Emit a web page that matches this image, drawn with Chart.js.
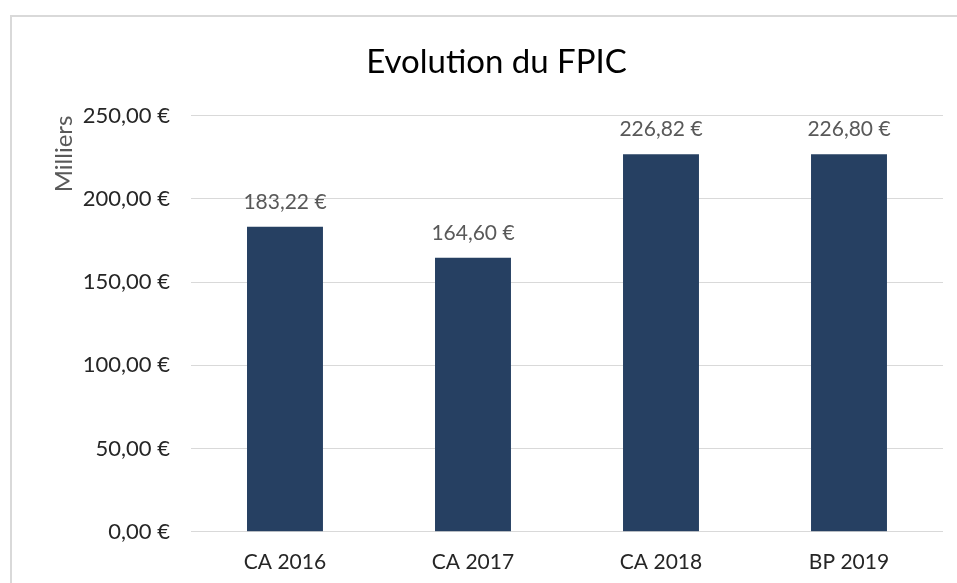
<!DOCTYPE html>
<html>
<head>
<meta charset="utf-8">
<script src="https://cdn.jsdelivr.net/npm/chart.js"></script>
<style>
  html,body{margin:0;padding:0;background:#fff;}
  #wrap{position:relative;width:957px;height:583px;}
</style>
</head>
<body>
<div id="wrap"><canvas id="fpic" width="957" height="583"></canvas></div>
<script>
const categories=["CA 2016","CA 2017","CA 2018","BP 2019"];
const fpicValues=[183.22,164.60,226.82,226.80];
const yTicks=[0,50,100,150,200,250];

const FONT="Lato, 'Open Sans', sans-serif";

function euro(v){
  return v.toFixed(2).replace(".",",")+" €";
}

// cadre gris autour du graphique
const framePlugin={
  id:"frame",
  beforeDraw(chart){
    const c=chart.ctx;
    c.save();
    c.strokeStyle="#d9d9d9";
    c.lineWidth=2;
    c.strokeRect(11,16,chart.width+20,chart.height+20);
    c.restore();
  }
};

// étiquettes de valeur au-dessus des barres
const labelPlugin={
  id:"barLabels",
  afterDatasetsDraw(chart){
    const c=chart.ctx;
    const meta=chart.getDatasetMeta(0);
    c.save();
    c.font="21px "+FONT;
    c.fillStyle="#595959";
    c.textAlign="center";
    c.textBaseline="middle";
    meta.data.forEach((bar,i)=>{
      c.fillText(euro(fpicValues[i]),bar.x,bar.y-25);
    });
    c.restore();
  }
};

new Chart(document.getElementById("fpic").getContext("2d"),{
  type:"bar",
  data:{
    labels:categories,
    datasets:[{
      data:fpicValues,
      backgroundColor:"#264062",
      categoryPercentage:1,
      barPercentage:0.404
    }]
  },
  options:{
    responsive:false,
    animation:false,
    layout:{padding:{left:50,right:14,top:43,bottom:-10}},
    plugins:{
      legend:{display:false},
      tooltip:{enabled:false},
      title:{
        display:true,
        text:"Evolution du FPIC",
        color:"#000",
        font:{family:FONT,size:33,weight:"normal"},
        padding:{top:0,bottom:33}
      }
    },
    scales:{
      x:{
        grid:{display:false,drawTicks:false},
        border:{display:false},
        ticks:{color:"#262626",font:{family:FONT,size:21},padding:18}
      },
      y:{
        min:0,max:250,
        afterBuildTicks(axis){axis.ticks=yTicks.map(v=>({value:v}));},
        grid:{color:"#d9d9d9",lineWidth:1,drawTicks:false},
        border:{display:false},
        ticks:{
          color:"#262626",
          font:{family:FONT,size:22},
          padding:21,
          callback:v=>euro(v)
        },
        title:{
          display:true,
          text:"Milliers",
          align:"end",
          color:"#595959",
          font:{family:FONT,size:24},
          padding:{top:0,bottom:-17}
        }
      }
    }
  },
  plugins:[framePlugin,labelPlugin]
});
</script>
</body>
</html>
